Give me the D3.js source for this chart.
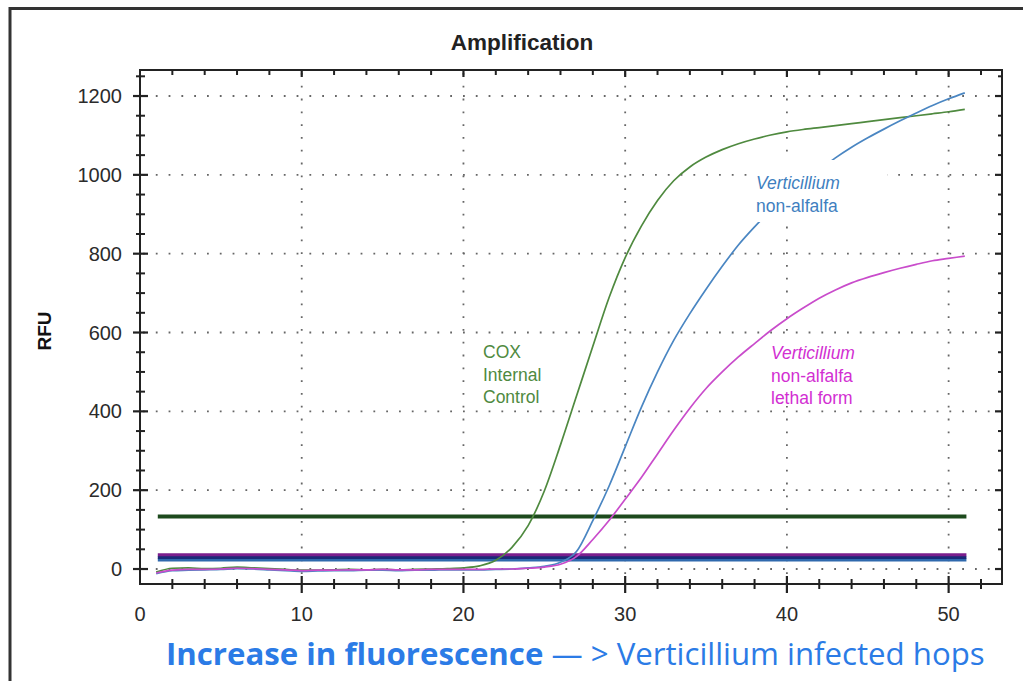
<!DOCTYPE html>
<html>
<head>
<meta charset="utf-8">
<script src="https://cdn.jsdelivr.net/npm/d3@7"></script>
<style>
  html, body { margin: 0; padding: 0; background: #fff; }
  svg { display: block; }
</style>
</head>
<body>
<svg id="chart" width="1023" height="681"></svg>
<script>
// Amplification curves (RFU per cycle) for three targets
const cycles = [1, 2, 3, 4, 5, 6, 7, 8, 9, 10, 11, 12, 13, 14, 15, 16, 17, 18, 19, 20,
  21, 22, 23, 24, 25, 26, 27, 28, 29, 30, 31, 32, 33, 34, 35, 36, 37, 38, 39, 40,
  41, 42, 43, 44, 45, 46, 47, 48, 49, 50, 51];

const coxRFU = [-8, 2, 3, 1, 2, 5, 3, 1, -1, -3, -3, -2, -1, -2, -1, -2, -1, 0, 1, 3,
  8, 22, 55, 110, 198, 315, 440, 565, 688, 790, 870, 935, 985, 1020, 1045, 1064, 1079, 1091, 1101, 1109,
  1115, 1120, 1125, 1130, 1135, 1140, 1145, 1150, 1155, 1160, 1166];

const nonAlfalfaRFU = [-12, -4, -3, -2, -1, 1, 0, -2, -4, -6, -5, -4, -4, -3, -3, -4, -3, -3, -2, -2,
  -2, -1, 0, 3, 7, 17, 45, 123, 210, 310, 410, 500, 580, 648, 710, 768, 822, 868, 910, 947,
  981, 1012, 1043, 1070, 1094, 1116, 1137, 1157, 1176, 1193, 1208];

const lethalRFU = [-10, -3, -1, -1, 0, 2, 1, -1, -2, -4, -3, -3, -2, -2, -1, -2, -2, -1, -1, -1,
  -1, 0, 0, 2, 5, 12, 32, 75, 123, 177, 232, 292, 352, 408, 458, 500, 538, 572, 605, 635,
  662, 687, 708, 726, 740, 752, 763, 773, 782, 788, 794];

// Threshold lines: value, colour, drawn from cycle 1.1 to 51.1
const thresholdValues = [133, 23, 29, 36];
const thresholdColors = ["#1d4a1d", "#2f69ad", "#1b2a78", "#7b1e8d"];
const thresholdSpan = [1.1, 51.1];

// Axis tick values
const xMajorTicks = [0, 10, 20, 30, 40, 50];
const xMinorTicks = [2, 4, 6, 8, 12, 14, 16, 18, 22, 24, 26, 28, 32, 34, 36, 38, 42, 44, 46, 48, 52];
const yMajorTicks = [0, 200, 400, 600, 800, 1000, 1200];
const yMinorTicks = [-50, 50, 100, 150, 250, 300, 350, 450, 500, 550, 650, 700, 750, 850, 900, 950, 1050, 1100, 1150, 1250];

const series = [
  { name: "COX Internal Control", values: coxRFU, color: "#4f8a3f" },
  { name: "Verticillium non-alfalfa", values: nonAlfalfaRFU, color: "#4a86c2" },
  { name: "Verticillium non-alfalfa lethal form", values: lethalRFU, color: "#c94ccb" }
];

const svg = d3.select("#chart");
const plot = { left: 140, right: 1002, top: 70, bottom: 584 };

const x = d3.scaleLinear().domain([0, 53.3]).range([plot.left, plot.right]);
const y = d3.scaleLinear().domain([-38, 1266]).range([plot.bottom, plot.top]);

// outer border (left and top edges)
svg.append("path")
  .attr("d", "M10,681 V8.5 H1023")
  .attr("fill", "none")
  .attr("stroke", "#333")
  .attr("stroke-width", 3);

// dotted grid
const grid = svg.append("g").attr("stroke", "#666").attr("stroke-width", 1.8)
  .attr("stroke-dasharray", "1.8,11").attr("fill", "none");
grid.selectAll("line.h").data(yMajorTicks).join("line").attr("class", "h")
  .attr("x1", plot.left + 3).attr("x2", plot.right)
  .attr("y1", d => y(d)).attr("y2", d => y(d));
grid.selectAll("line.v").data(xMajorTicks.filter(d => d > 0)).join("line").attr("class", "v")
  .attr("x1", d => x(d)).attr("x2", d => x(d))
  .attr("y1", plot.top + 3).attr("y2", plot.bottom);

// threshold lines
svg.append("g").selectAll("line").data(thresholdValues).join("line")
  .attr("x1", x(thresholdSpan[0])).attr("x2", x(thresholdSpan[1]))
  .attr("y1", d => y(d)).attr("y2", d => y(d))
  .attr("stroke", (d, i) => thresholdColors[i])
  .attr("stroke-width", (d, i) => i === 0 ? 4 : 3);

// amplification curves
const line = d3.line()
  .x((d, i) => x(cycles[i]))
  .y(d => y(d))
  .curve(d3.curveMonotoneX);

svg.append("g").selectAll("path").data(series).join("path")
  .attr("d", d => line(d.values))
  .attr("fill", "none")
  .attr("stroke", d => d.color)
  .attr("stroke-width", 1.7);

// frame
svg.append("rect")
  .attr("x", plot.left).attr("y", plot.top)
  .attr("width", plot.right - plot.left).attr("height", plot.bottom - plot.top)
  .attr("fill", "none").attr("stroke", "#222").attr("stroke-width", 2);

// ticks
const ticks = svg.append("g").attr("stroke", "#222");
// left: crossing ticks
ticks.selectAll("line.yl").data(yMajorTicks).join("line").attr("class", "yl")
  .attr("x1", plot.left - 7).attr("x2", plot.left + 8)
  .attr("y1", d => y(d)).attr("y2", d => y(d)).attr("stroke-width", 2.2);
ticks.selectAll("line.ylm").data(yMinorTicks.filter(d => y(d) > plot.top + 2 && y(d) < plot.bottom - 2))
  .join("line").attr("class", "ylm")
  .attr("x1", plot.left - 4).attr("x2", plot.left + 5)
  .attr("y1", d => y(d)).attr("y2", d => y(d)).attr("stroke-width", 2);
// right: inward ticks
ticks.selectAll("line.yr").data(yMajorTicks).join("line").attr("class", "yr")
  .attr("x1", plot.right - 7).attr("x2", plot.right)
  .attr("y1", d => y(d)).attr("y2", d => y(d)).attr("stroke-width", 2.2);
ticks.selectAll("line.yrm").data(yMinorTicks.filter(d => y(d) > plot.top + 2 && y(d) < plot.bottom - 2))
  .join("line").attr("class", "yrm")
  .attr("x1", plot.right - 4).attr("x2", plot.right)
  .attr("y1", d => y(d)).attr("y2", d => y(d)).attr("stroke-width", 2);
// bottom: crossing ticks
ticks.selectAll("line.xb").data(xMajorTicks.filter(d => d > 0)).join("line").attr("class", "xb")
  .attr("x1", d => x(d)).attr("x2", d => x(d))
  .attr("y1", plot.bottom - 8).attr("y2", plot.bottom + 9).attr("stroke-width", 2.2);
ticks.selectAll("line.xbm").data(xMinorTicks).join("line").attr("class", "xbm")
  .attr("x1", d => x(d)).attr("x2", d => x(d))
  .attr("y1", plot.bottom - 5).attr("y2", plot.bottom + 5).attr("stroke-width", 2);
// top: inward ticks
ticks.selectAll("line.xt").data(xMajorTicks.filter(d => d > 0)).join("line").attr("class", "xt")
  .attr("x1", d => x(d)).attr("x2", d => x(d))
  .attr("y1", plot.top).attr("y2", plot.top + 7).attr("stroke-width", 2.2);
ticks.selectAll("line.xtm").data(xMinorTicks).join("line").attr("class", "xtm")
  .attr("x1", d => x(d)).attr("x2", d => x(d))
  .attr("y1", plot.top).attr("y2", plot.top + 5).attr("stroke-width", 2);

// tick labels
const labelFont = "'Liberation Sans', Arial, sans-serif";
svg.append("g").selectAll("text").data(yMajorTicks).join("text")
  .attr("x", plot.left - 18).attr("y", d => y(d) + 7)
  .attr("text-anchor", "end")
  .attr("font-family", labelFont).attr("font-size", 20).attr("fill", "#2b2b2b")
  .text(d => d);
svg.append("g").selectAll("text").data(xMajorTicks).join("text")
  .attr("x", d => x(d)).attr("y", 621)
  .attr("text-anchor", "middle")
  .attr("font-family", labelFont).attr("font-size", 20).attr("fill", "#2b2b2b")
  .text(d => d);

// title and axis label
svg.append("text")
  .attr("x", 522).attr("y", 50).attr("text-anchor", "middle")
  .attr("font-family", labelFont).attr("font-size", 22.5).attr("font-weight", "bold")
  .attr("fill", "#222").text("Amplification");
svg.append("text")
  .attr("transform", "translate(51,331) rotate(-90)").attr("text-anchor", "middle")
  .attr("font-family", labelFont).attr("font-size", 19).attr("font-weight", "bold")
  .attr("fill", "#111").text("RFU");

// curve annotations
function annotate(lines, x0, y0, color, knockout) {
  const g = svg.append("g");
  if (knockout) {
    g.append("rect").attr("x", knockout[0]).attr("y", knockout[1])
      .attr("width", knockout[2]).attr("height", knockout[3]).attr("fill", "#fff");
  }
  lines.forEach((l, i) => {
    g.append("text")
      .attr("x", x0).attr("y", y0 + i * 22.5)
      .attr("font-family", labelFont).attr("font-size", 17.5)
      .attr("font-style", l.italic ? "italic" : "normal")
      .attr("fill", color).text(l.text);
  });
}
annotate([{ text: "COX" }, { text: "Internal" }, { text: "Control" }], 483, 358, "#4f8a3f");
annotate([{ text: "Verticillium", italic: true }, { text: "non-alfalfa" }], 756, 189, "#3f7fc0",
  [748, 160, 139, 62]);
annotate([{ text: "Verticillium", italic: true }, { text: "non-alfalfa" }, { text: "lethal form" }], 771, 359, "#d22fd2",
  [766, 340, 104, 66]);

// caption below the chart
const caption = svg.append("text")
  .attr("x", 166).attr("y", 665)
  .attr("font-family", "'Open Sans', 'Noto Sans', sans-serif")
  .attr("font-size", 28).attr("fill", "#2b7be6");
caption.append("tspan").attr("font-weight", "bold").text("Increase in fluorescence");
caption.append("tspan").text(" \u2014 > Verticillium infected hops");
const w = caption.node().getComputedTextLength();
caption.attr("font-size", 28 * 819 / w);
</script>
</body>
</html>
